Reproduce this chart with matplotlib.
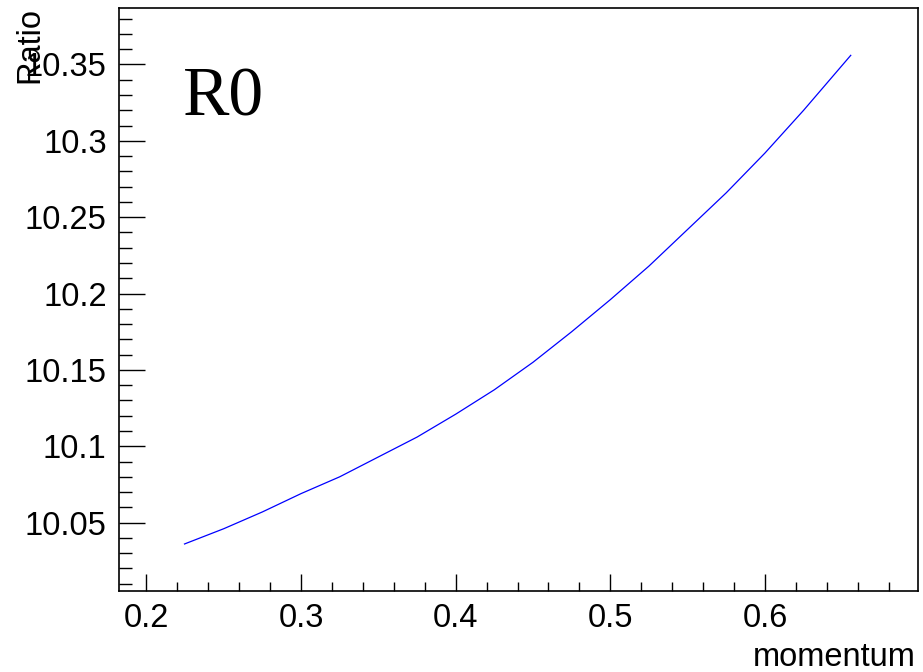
import matplotlib
matplotlib.use("Agg")
import matplotlib.pyplot as plt
from matplotlib.ticker import MultipleLocator

# momentum vs ratio
momentum = [0.2246, 0.25, 0.275, 0.30, 0.325, 0.35, 0.375, 0.40, 0.425, 0.45,
            0.475, 0.50, 0.525, 0.55, 0.575, 0.60, 0.625, 0.6555]
ratio = [10.036, 10.046, 10.057, 10.069, 10.080, 10.093, 10.106, 10.121, 10.137, 10.155,
         10.175, 10.196, 10.218, 10.242, 10.266, 10.292, 10.320, 10.356]

x_ticks = [0.2, 0.3, 0.4, 0.5, 0.6]
x_labels = ["0.2", "0.3", "0.4", "0.5", "0.6"]
y_ticks = [10.05, 10.1, 10.15, 10.2, 10.25, 10.3, 10.35]
y_labels = ["10.05", "10.1", "10.15", "10.2", "10.25", "10.3", "10.35"]

plt.rcParams["font.family"] = ["Liberation Sans", "DejaVu Sans"]

fig = plt.figure(figsize=(9.23, 6.72), dpi=100)
ax = fig.add_axes([118.5 / 923, 1 - 590.7 / 672, (918 - 118.5) / 923, (590.7 - 8) / 672])

ax.plot(momentum, ratio, color="#0000ff", linewidth=0.9)

ax.set_xlim(0.1819, 0.699)
ax.set_ylim(10.0054, 10.387)

ax.set_xticks(x_ticks)
ax.set_xticklabels(x_labels)
ax.set_yticks(y_ticks)
ax.set_yticklabels(y_labels)
ax.xaxis.set_minor_locator(MultipleLocator(0.02))
ax.yaxis.set_minor_locator(MultipleLocator(0.01))

ax.tick_params(axis="both", which="both", direction="in", labelsize=23.5, width=1.0,
               top=False, right=False, colors="black")
ax.tick_params(axis="y", which="major", length=18.5, pad=8.5)
ax.tick_params(axis="y", which="minor", length=9.3)
ax.tick_params(axis="x", which="major", length=12.3, pad=9)
ax.tick_params(axis="x", which="minor", length=6.5)

for s in ax.spines.values():
    s.set_linewidth(1.2)

fig.text(14 / 923, 1 - 7 / 672, "Ratio", rotation=90, ha="left", va="top", fontsize=23.5)
fig.text(916 / 923, 1 - 666 / 672, "momentum", ha="right", va="baseline", fontsize=23.5)
fig.text(183 / 923, 1 - 116 / 672, "R0", ha="left", va="baseline", fontsize=50,
         family=["Liberation Serif", "DejaVu Serif"])

fig.savefig("out.png", dpi=100)
